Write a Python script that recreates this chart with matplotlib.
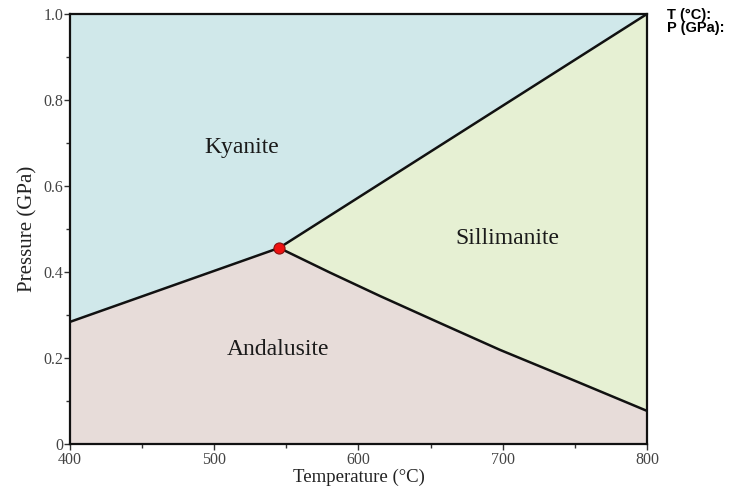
import matplotlib
matplotlib.use('Agg')
import matplotlib.pyplot as plt

# phase boundaries (T in degC, P in GPa)
ky_and_T = [400, 545]
ky_and_P = [0.284, 0.456]

ky_sil_T = [545, 800]
ky_sil_P = [0.456, 1.0]

and_sil_T = [545, 580, 615, 656, 698, 750, 800]
and_sil_P = [0.456, 0.399, 0.344, 0.282, 0.219, 0.147, 0.077]

triple_T = 545
triple_P = 0.456

x_ticks = [400, 500, 600, 700, 800]
y_ticks = [0, 0.2, 0.4, 0.6, 0.8, 1.0]
y_tick_labels = ['0', '0.2', '0.4', '0.6', '0.8', '1.0']

T_min, T_max = 400, 800
P_min, P_max = 0, 1.0

ky_color = '#d0e8ea'
sil_color = '#e6f0d3'
and_color = '#e7dcd9'

serif = ['Liberation Serif', 'DejaVu Serif']

fig = plt.figure(figsize=(7.39, 4.87), dpi=100)
ax = fig.add_axes([0.0947, 0.0883, 0.7808, 0.883])

# kyanite field: above ky-and and ky-sil
ky_x = [T_min] + ky_and_T + ky_sil_T[1:] + [T_min]
ky_y = [P_max] + ky_and_P + ky_sil_P[1:] + [P_max]
ax.fill(ky_x, ky_y, color=ky_color, lw=0)

# sillimanite field: between ky-sil and and-sil
sil_x = ky_sil_T + [T_max] + and_sil_T[::-1]
sil_y = ky_sil_P + [and_sil_P[-1]] + and_sil_P[::-1]
ax.fill(sil_x, sil_y, color=sil_color, lw=0)

# andalusite field: below ky-and and and-sil
and_x = [T_min] + ky_and_T + and_sil_T[1:] + [T_max, T_min]
and_y = [P_min] + ky_and_P + and_sil_P[1:] + [P_min, P_min]
ax.fill(and_x, and_y, color=and_color, lw=0)

for xs, ys in [(ky_and_T, ky_and_P), (ky_sil_T, ky_sil_P), (and_sil_T, and_sil_P)]:
    ax.plot(xs, ys, color='#111111', lw=1.8, solid_capstyle='butt', solid_joinstyle='round')

ax.plot(triple_T, triple_P, 'o', ms=8, mfc='#ee1111', mec='#881111', mew=0.8, zorder=5)

ax.text(519, 0.69, 'Kyanite', fontsize=17, family=serif, ha='center', va='center', color='#1a1a1a')
ax.text(703, 0.479, 'Sillimanite', fontsize=17, family=serif, ha='center', va='center', color='#1a1a1a')
ax.text(544, 0.219, 'Andalusite', fontsize=17, family=serif, ha='center', va='center', color='#1a1a1a')

ax.set_xlim(T_min, T_max)
ax.set_ylim(P_min, P_max)
ax.set_xticks(x_ticks)
ax.set_xticks([450, 550, 650, 750], minor=True)
ax.set_yticks(y_ticks)
ax.set_yticklabels(y_tick_labels)
ax.set_yticks([0.1, 0.3, 0.5, 0.7, 0.9], minor=True)
ax.tick_params(which='both', direction='out', length=4, width=1, color='#333333',
               labelsize=11.5, labelcolor='#444444', pad=1)
ax.tick_params(axis='x', which='major', pad=2)
ax.tick_params(which='minor', length=3)
for lab in ax.get_xticklabels() + ax.get_yticklabels():
    lab.set_family(serif)
for s in ax.spines.values():
    s.set_linewidth(1.6)
    s.set_color('#111111')

ax.set_xlabel('Temperature (°C)', fontsize=13.5, family=serif, color='#222222', labelpad=0.5)
ax.set_ylabel('Pressure (GPa)', fontsize=15, family=serif, color='#222222', labelpad=4)

fig.text(0.903, 0.969, 'T (°C):', fontsize=10.5, fontweight='bold', family=['Liberation Sans', 'DejaVu Sans'],
         va='center', ha='left')
fig.text(0.903, 0.942, 'P (GPa):', fontsize=10.5, fontweight='bold', family=['Liberation Sans', 'DejaVu Sans'],
         va='center', ha='left')

fig.savefig('out.png', dpi=100)
